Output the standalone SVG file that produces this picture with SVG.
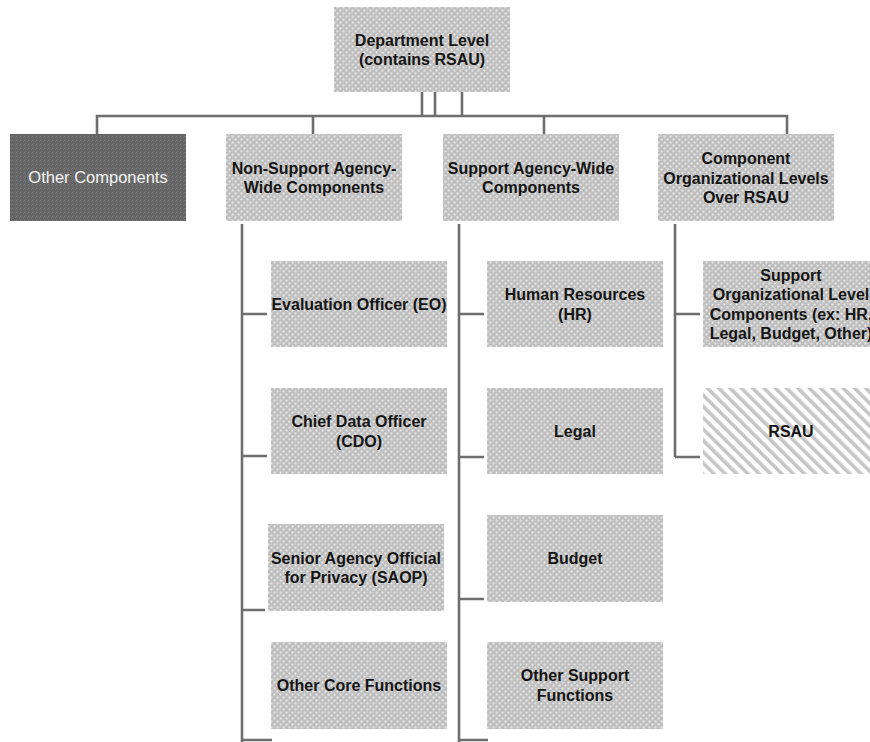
<svg xmlns="http://www.w3.org/2000/svg" width="870" height="742" viewBox="0 0 870 742">
<style>
.lbl{font-family:"Liberation Sans",Arial,sans-serif;font-size:16px;font-weight:bold;fill:#151515;text-anchor:middle}
.wht{font-family:"Liberation Sans",Arial,sans-serif;font-size:16.5px;fill:#f4f4f4;text-anchor:middle}
.box{fill:url(#dots)}
.ln{stroke:#6e6e6e;stroke-width:2.6;fill:none}
</style>
<defs>
<pattern id="dots" width="6" height="6" patternUnits="userSpaceOnUse">
<rect width="6" height="6" fill="#bcbcbc"/>
<rect x="0.5" y="0.5" width="2" height="2" fill="#ebebeb"/>
<rect x="3.5" y="3.5" width="2" height="2" fill="#ebebeb"/>
<rect x="3.5" y="0.5" width="1" height="1" fill="#d6d6d6"/>
<rect x="0.5" y="3.5" width="1" height="1" fill="#d6d6d6"/>
</pattern>
<pattern id="dark" width="4" height="4" patternUnits="userSpaceOnUse">
<rect width="4" height="4" fill="#676767"/>
<rect x="0" y="0" width="1" height="1" fill="#7a7a7a"/>
<rect x="2" y="2" width="1" height="1" fill="#585858"/>
<rect x="3" y="1" width="1" height="1" fill="#747474"/>
</pattern>
<pattern id="stripes" width="8" height="8" patternUnits="userSpaceOnUse" patternTransform="rotate(-45)">
<rect width="8" height="8" fill="#ffffff"/>
<rect width="3.6" height="8" fill="#c6c6c6"/>
</pattern>
</defs>

<g id="connectors">
<path class="ln" d="M422,92V116M435,92V116M462,92V116"/>
<path class="ln" d="M97,134V116H787V134M313,116V134M544,116V134"/>
<path class="ln" d="M242,224V742M242,314H267M242,456H267M242,610H265M242,740H272"/>
<path class="ln" d="M459,224V742M459,314H484M459,457H484M459,599H484M459,740H488"/>
<path class="ln" d="M675,224V457M675,314H700M675,457H700"/>
</g>

<g id="department">
<rect class="box" x="334" y="7" width="176" height="85"/>
<text class="lbl" x="422" y="46">Department Level</text>
<text class="lbl" x="422" y="65">(contains RSAU)</text>
</g>

<g id="other-components">
<rect fill="url(#dark)" x="10" y="134" width="176" height="87"/>
<text class="wht" x="98" y="183">Other Components</text>
</g>

<g id="non-support">
<rect class="box" x="226" y="134" width="176" height="87"/>
<text class="lbl" x="314" y="173.5">Non-Support Agency-</text>
<text class="lbl" x="314" y="193">Wide Components</text>
</g>

<g id="support">
<rect class="box" x="443" y="134" width="176" height="87"/>
<text class="lbl" x="531" y="173.5">Support Agency-Wide</text>
<text class="lbl" x="531" y="193">Components</text>
</g>

<g id="component-levels">
<rect class="box" x="658" y="134" width="176" height="87"/>
<text class="lbl" x="746" y="164">Component</text>
<text class="lbl" x="746" y="183.5">Organizational Levels</text>
<text class="lbl" x="746" y="203">Over RSAU</text>
</g>

<g id="eo">
<rect class="box" x="271" y="261" width="176" height="86"/>
<text class="lbl" x="359" y="310">Evaluation Officer (EO)</text>
</g>

<g id="cdo">
<rect class="box" x="271" y="388" width="176" height="86"/>
<text class="lbl" x="359" y="427">Chief Data Officer</text>
<text class="lbl" x="359" y="446.5">(CDO)</text>
</g>

<g id="saop">
<rect class="box" x="268" y="524" width="176" height="87"/>
<text class="lbl" x="356" y="563.5">Senior Agency Official</text>
<text class="lbl" x="356" y="583">for Privacy (SAOP)</text>
</g>

<g id="other-core">
<rect class="box" x="271" y="642" width="176" height="87"/>
<text class="lbl" x="359" y="691">Other Core Functions</text>
</g>

<g id="hr">
<rect class="box" x="487" y="261" width="176" height="86"/>
<text class="lbl" x="575" y="300">Human Resources</text>
<text class="lbl" x="575" y="319.5">(HR)</text>
</g>

<g id="legal">
<rect class="box" x="487" y="388" width="176" height="86"/>
<text class="lbl" x="575" y="437">Legal</text>
</g>

<g id="budget">
<rect class="box" x="487" y="515" width="176" height="87"/>
<text class="lbl" x="575" y="564">Budget</text>
</g>

<g id="other-support">
<rect class="box" x="487" y="642" width="176" height="87"/>
<text class="lbl" x="575" y="681">Other Support</text>
<text class="lbl" x="575" y="700.5">Functions</text>
</g>

<g id="support-org">
<rect class="box" x="703" y="261" width="176" height="86"/>
<text class="lbl" x="791" y="280.5">Support</text>
<text class="lbl" x="791" y="300">Organizational Level</text>
<text class="lbl" x="791" y="319.5">Components (ex: HR,</text>
<text class="lbl" x="791" y="339">Legal, Budget, Other)</text>
</g>

<g id="rsau">
<rect fill="url(#stripes)" x="703" y="388" width="176" height="86"/>
<text class="lbl" x="791" y="437">RSAU</text>
</g>
</svg>
